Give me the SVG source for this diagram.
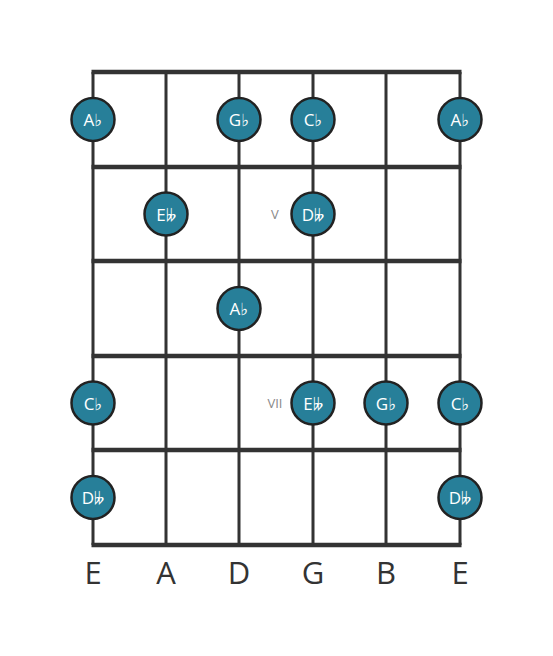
<svg xmlns="http://www.w3.org/2000/svg" width="553" height="656" viewBox="0 0 553 656">
<style>
.string{stroke:#333;stroke-width:3}
.fret{stroke:#333;stroke-width:4.5}
.note circle{fill:#277f99;stroke:#222;stroke-width:2.5}
.note text{fill:#fff;font-family:"Open Sans","DejaVu Sans",sans-serif;font-size:17px;text-anchor:middle;dominant-baseline:central}
.fl{fill:#888;font-family:"Open Sans",sans-serif;font-size:13px;text-anchor:middle;dominant-baseline:central}
.sl{fill:#333;font-family:"Open Sans",sans-serif;font-size:31px;text-anchor:middle}
</style>
<rect width="553" height="656" fill="#fff"/>
<g id="fretboard">
<line class="string" x1="93" y1="72" x2="93" y2="545"/>
<line class="string" x1="166" y1="72" x2="166" y2="545"/>
<line class="string" x1="239" y1="72" x2="239" y2="545"/>
<line class="string" x1="313" y1="72" x2="313" y2="545"/>
<line class="string" x1="386" y1="72" x2="386" y2="545"/>
<line class="string" x1="460" y1="72" x2="460" y2="545"/>
<line class="fret" x1="91.5" y1="72" x2="461.5" y2="72"/>
<line class="fret" x1="91.5" y1="167" x2="461.5" y2="167"/>
<line class="fret" x1="91.5" y1="261" x2="461.5" y2="261"/>
<line class="fret" x1="91.5" y1="356" x2="461.5" y2="356"/>
<line class="fret" x1="91.5" y1="450" x2="461.5" y2="450"/>
<line class="fret" x1="91.5" y1="545" x2="461.5" y2="545"/>
</g>
<g id="fret-labels">
<text class="fl" x="275" y="214">V</text>
<text class="fl" x="275" y="403">VII</text>
</g>
<g id="n1"><g class="note"><circle cx="93" cy="119.5" r="21.5"/><text x="93" y="119.5">A♭</text></g></g>
<g id="n2"><g class="note"><circle cx="239" cy="119.5" r="21.5"/><text x="239" y="119.5">G♭</text></g></g>
<g id="n3"><g class="note"><circle cx="313" cy="119.5" r="21.5"/><text x="313" y="119.5">C♭</text></g></g>
<g id="n4"><g class="note"><circle cx="460" cy="119.5" r="21.5"/><text x="460" y="119.5">A♭</text></g></g>
<g id="n5"><g class="note"><circle cx="166" cy="214" r="21.5"/><text x="166" y="214">E𝄫</text></g></g>
<g id="n6"><g class="note"><circle cx="313" cy="214" r="21.5"/><text x="313" y="214">D𝄫</text></g></g>
<g id="n7"><g class="note"><circle cx="239" cy="308.5" r="21.5"/><text x="239" y="308.5">A♭</text></g></g>
<g id="n8"><g class="note"><circle cx="93" cy="403" r="21.5"/><text x="93" y="403">C♭</text></g></g>
<g id="n9"><g class="note"><circle cx="313" cy="403" r="21.5"/><text x="313" y="403">E𝄫</text></g></g>
<g id="n10"><g class="note"><circle cx="386" cy="403" r="21.5"/><text x="386" y="403">G♭</text></g></g>
<g id="n11"><g class="note"><circle cx="460" cy="403" r="21.5"/><text x="460" y="403">C♭</text></g></g>
<g id="n12"><g class="note"><circle cx="93" cy="497.5" r="21.5"/><text x="93" y="497.5">D𝄫</text></g></g>
<g id="n13"><g class="note"><circle cx="460" cy="497.5" r="21.5"/><text x="460" y="497.5">D𝄫</text></g></g>
<g id="string-labels">
<text class="sl" x="93" y="584">E</text>
<text class="sl" x="166" y="584">A</text>
<text class="sl" x="239" y="584">D</text>
<text class="sl" x="313" y="584">G</text>
<text class="sl" x="386" y="584">B</text>
<text class="sl" x="460" y="584">E</text>
</g>
</svg>
